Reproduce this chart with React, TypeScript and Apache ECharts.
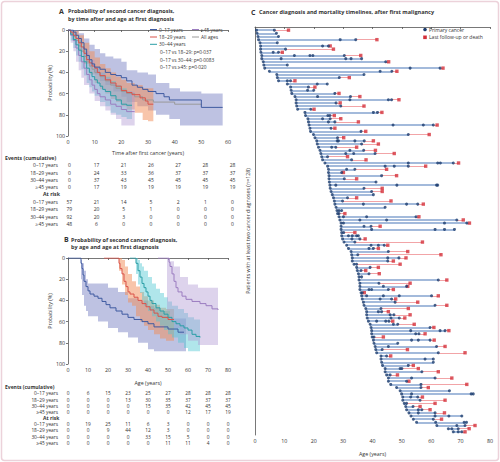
import React, { useEffect, useRef } from "react";
import * as echarts from "echarts";

const FONT = "'Open Sans', 'Noto Sans', sans-serif";
const TXT = "#333";

const groups = ["0–17 years", "18–29 years", "30–44 years", "≥45 years"];
const lineColors = ["#3f5aa0", "#d9534a", "#2a9ea6", "#9b7dc0"];
const bandColors = ["rgba(110,120,190,0.45)", "rgba(242,140,85,0.5)", "rgba(80,200,210,0.45)", "rgba(175,150,210,0.42)"];
const allAgesColor = "#9a9a9a";

// ---- Panel A: time after first cancer (years) vs probability (%)
const kmA_0_17 = [[0,0],[2,2],[3,5],[4,8],[5,12],[6,18],[7,24],[8,28],[9,32],[10,35],[12,37],[14,40],[16,42],[18,43],[20,45],[22,48],[24,52],[26,54],[28,56],[30,58],[33,60],[36,63],[38,66],[50,73],[58,73]];
const kmA_18_29 = [[0,0],[1,2],[2,5],[3,8],[4,12],[5,16],[6,22],[7,28],[8,31],[9,34],[10,36],[11,40],[12,43],[14,47],[16,50],[18,53],[20,57],[22,59],[24,61],[27,64],[29,67],[30,70],[32,70]];
const kmA_30_44 = [[0,0],[1,4],[2,9],[3,14],[4,19],[5,25],[6,30],[7,36],[8,40],[9,44],[10,47],[11,50],[12,53],[13,56],[14,58],[16,62],[18,66],[20,70],[22,71],[24,71]];
const kmA_45 = [[0,0],[1,5],[2,10],[3,17],[4,24],[5,30],[6,36],[7,42],[8,47],[9,52],[10,56],[11,60],[12,63],[14,66],[16,70],[18,72],[20,75],[22,77],[25,77]];
const kmA_all = [[0,0],[1,3],[2,6],[3,10],[4,15],[5,20],[6,25],[7,30],[8,34],[9,37],[10,40],[12,44],[14,48],[16,52],[18,55],[20,58],[22,60],[25,63],[28,66],[32,68],[40,70],[50,71]];

const bandA_0_17 = [[0,0,0],[2,0,5],[4,3,14],[6,8,25],[8,14,35],[10,18,42],[12,22,48],[14,25,52],[17,27,58],[20,30,63],[22,38,68],[26,40,72],[30,42,76],[33,50,80],[38,55,84],[42,58,90],[50,60,90],[58,60,90]];
const bandA_18_29 = [[0,0,0],[2,1,10],[4,5,20],[6,12,32],[8,20,42],[10,26,50],[12,32,56],[14,36,60],[16,40,65],[18,44,68],[20,47,72],[22,50,75],[25,52,78],[28,55,85],[30,55,86],[32,55,86]];
const bandA_30_44 = [[0,0,0],[1,0,10],[2,3,17],[3,6,24],[4,10,30],[5,14,37],[6,18,43],[7,24,50],[8,28,54],[9,32,58],[10,35,62],[12,40,68],[14,44,72],[16,48,78],[18,52,80],[20,55,82],[22,58,84],[24,58,84]];
const bandA_45 = [[0,0,0],[1,0,12],[2,3,20],[3,7,30],[4,12,38],[5,16,45],[6,20,52],[8,28,60],[10,35,67],[12,40,72],[14,45,76],[16,50,80],[18,55,84],[20,58,90],[25,60,90]];

// ---- Panel B: age (years) vs probability (%)
const kmB_0_17 = [[0,0],[6,0],[6.5,5],[7,10],[7.5,16],[8,22],[9,27],[10,31],[11,34],[13,36],[15,38],[17,41],[19,44],[21,47],[24,50],[27,53],[30,56],[33,58],[37,60],[40,62],[43,65],[50,67],[55,70],[58,70]];
const kmB_18_29 = [[18,0],[25,0],[25.5,5],[26,10],[27,15],[28,22],[29,27],[30,32],[31,34],[33,37],[35,40],[37,43],[39,46],[41,49],[43,52],[45,55],[47,56],[50,58],[53,58]];
const kmB_30_44 = [[31,0],[33.5,0],[34,5],[35,12],[36,18],[37,24],[38,28],[39,32],[40,36],[41,40],[42,43],[44,47],[46,50],[48,53],[50,56],[52,60],[54,62],[56,64],[58,66],[60,68],[62,72],[64,74],[66,75]];
const kmB_45 = [[45,0],[50,0],[50.5,4],[51,8],[52,15],[53,22],[54,28],[55,32],[57,36],[59,39],[62,41],[66,43],[69,45],[72,48],[75,49]];

const bandB_0_17 = [[6,0,0],[6.5,2,20],[7,5,35],[8,12,45],[9,20,50],[10,24,55],[15,24,60],[20,28,66],[25,32,70],[30,38,75],[35,40,80],[40,45,86],[43,47,88],[46,50,88],[51,57,88],[59,57,88]];
const bandB_18_29 = [[25,0,0],[25.5,0,12],[27,2,25],[28.5,8,35],[30,15,42],[32,22,45],[34,27,55],[36,32,60],[38,36,64],[40,40,68],[43,44,72],[46,47,76],[49,48,78],[53,48,78]];
const bandB_30_44 = [[33,0,0],[34,0,15],[35,2,25],[36,5,33],[37,8,40],[38,12,45],[40,18,50],[42,24,55],[44,29,60],[46,33,64],[48,37,68],[50,41,72],[52,45,75],[55,48,80],[58,52,85],[60,56,88],[63,58,88],[66,58,88]];
const bandB_45 = [[49.5,0,50],[51,3,60],[53,8,66],[56,18,72],[60,25,78],[65,28,82],[75,29,84]];

// ---- Tables
const tickA = [0, 10, 20, 30, 40, 50, 60];
const eventsA = [[0,17,21,26,27,28,28],[0,24,33,36,37,37,37],[0,37,43,45,45,45,45],[0,17,19,19,19,19,19]];
const atRiskA = [[57,21,14,5,2,1,0],[79,20,5,1,0,0,0],[92,20,3,0,0,0,0],[48,6,0,0,0,0,0]];
const tickB = [0, 10, 20, 30, 40, 50, 60, 70, 80];
const eventsB = [[0,6,15,23,25,27,28,28,28],[0,0,0,13,30,35,37,37,37],[0,0,0,0,15,35,42,45,45],[0,0,0,0,0,0,12,17,19]];
const atRiskB = [[0,19,25,11,6,3,0,0,0],[0,0,9,44,12,3,0,0,0],[0,0,0,0,33,15,5,0,0],[0,0,0,0,0,11,11,4,0]];
const pValues = ["0–17 vs 18–29: p=0·037", "0–17 vs 30–44: p=0·0083", "0–17 vs ≥45: p=0·020"];

// ---- Panel C: ages at each cancer diagnosis, and age at last follow-up or death
const patientCancers: number[][] = [
  [0.5,6.6],[0.7,7.3],[1,8],[1.2,29,34.3],[1.7,7.6],[1.9,23,25],[1.9,10.4],[2,6.2,8],[2.3,13.4,18.7,19.7,30.4],[2.3,8.9,30.9,32.7,36.3],
  [2.8,44.5],[3,11],[3.3,52.8,63],[4.9,42.6,46.6],[7.4,37.1],[7.6,28.7],[8,11,12.1],[11,21.2,24.6],[12.1,18.2],[12.3,17.9,20],
  [12.5,27.2],[13.6,21.3,32.5],[14,32.3,45.4,46.5],[14,27.6],[14.2,29.2],[14.5,19],[17,40.3,41.7],[17.2,24.8,25.5],[18,23,25.6],[18.2,25,27.2],
  [18.4,47,57.3,60.7],[18.7,25.9],[18.9,36.1],[19.9,52.2],[20.4,28.1],[21,28,28.4,34,37.2],[21.2,36.3],[21.6,26.1,27.5],[22.1,32.3,37],[22.4,30.9,33.6,40.9],
  [22.7,24.7],[23,32.9],[23.8,52.2,62.2,63.1,67.5],[24.7,44.3,47.4,52.2],[25,31.2,34],[25,29.5],[25.2,43.1],[25.2,30.4],[25.3,41.2],[25.5,27.5,48.3,61.8,62.2],
  [25.6,37.1],[25.9,39.7],[26.3,40.3],[26.7,31.5],[27,29.8],[27.2,36.9,51.6,55.4],[27.6,44.3],[27.9,28.6,29.5],[28.1,28.6],[28.6,30.1,38,54.8],
  [28.9,35.7,44.8,68.7],[29.3,30.1,64.5,72.1],[29.3,37.1,39.5],[29.3,39.7,61.3,64.5,67.9],[29.5,30.2],[29.5,31.8,33.1,34.6,35.2],[29.8,33,35.7],[30.3,34],[31.2,39.5,42,44],[31.8,38.8,40.3],
  [32.7,45.4],[32.9,35],[33.1,45.2,49],[33.1,45.2],[33.7,34.6],[34.6,39.2],[34.8,36.1],[35.2,38.8],[35.4,36.3],[35.4,62.4],
  [35.7,42.2],[35.7,43.7,51.6],[35.7,38.8,39.7,45.4],[36.1,36.5],[36.3,38,43.7,49.1,60.1],[36.5,42.6,46.5],[36.9,47.7],[37.1,61.3],[37.7,42.9],[38,42,43.1],
  [38,46,47.3],[38.2,46.3,49.1],[38.6,41.4,44.5,45.6],[39.2,47.1,48.6],[39.5,59.6],[39.7,53,63,64.7],[39.7,54.7,55.8],[39.9,40.5],[40.3,53.3,55.6,59.6],[40.5,48.6],
  [40.9,45.4,61.8],[41.1,43.3],[41.4,62.4],[42.9,44.8],[42.9,57.9,60.7],[43.1,60.7],[43.4,52.2],[44.3,49.4,50],[44.3,56.8],[44.8,46],
  [45.4,53.3,61.3],[45.4,51.6],[46.2,56.5],[48.2,56.5],[49.4,66.2],[49.9,53.3,73.6,74.3],[50.3,53,55.4],[50.3,56.2],[50.8,51.6],[51.3,53.8],
  [51.6,55.6,56.8],[52.4,55.6,61.3],[53.1,61.3,66,70.4],[53.9,60.7],[55,61.5,71.2,72],[61.9,68.7,71.5],[65.8,67,69.2],[67.5,69.2,70.4]
];
const patientFollowUp: (number | null)[] = [
  11.4,null,null,41.5,null,25.6,26.7,9.3,36,null,
  45.5,null,64,48.3,null,32.1,13.6,null,20.4,null,
  28.6,35.7,49,29,37.1,20.1,43.2,27,29.2,35.2,
  62,27.2,37.7,59.3,30.2,40.3,42,34.6,41,47.4,
  31.5,37.8,69.3,58.1,44.8,30.1,48.2,34.6,null,null,
  43.3,43.3,null,34.6,46.3,57.3,null,null,30.6,55.8,
  70.9,73,42.6,null,34,null,37.5,57,45.2,42,
  52,63.3,51.4,47.1,49.4,42,37.7,42.3,null,65.3,
  52.8,52,47.1,37.2,62.4,47.9,55.4,65.3,52.2,45.4,
  52.8,51,46.9,54.2,60.9,66,57.9,43.7,61,null,
  64.7,51.9,71.5,46.2,null,null,53.9,55.6,62.4,48.5,
  67,52.4,72.1,59,null,null,57,64.7,61.3,56.2,
  59.6,64.5,null,63.5,null,74.9,72.9,71.5
];

const GA = { left: 68, top: 30, width: 160, height: 106 };
const GB = { left: 68, top: 258, width: 160, height: 106 };
const GC = { left: 255, top: 27, width: 235, height: 408 };

function bandSeries(band: number[][], color: string, axisIdx: number) {
  return {
    type: "custom",
    xAxisIndex: axisIdx,
    yAxisIndex: axisIdx,
    silent: true,
    data: [[band[0][0], 0]],
    renderItem: (_p: any, api: any) => {
      const up: number[][] = [];
      const low: number[][] = [];
      for (let i = 0; i < band.length; i++) {
        const [x, u, l] = band[i];
        if (i > 0) {
          up.push(api.coord([x, band[i - 1][1]]));
          low.push(api.coord([x, band[i - 1][2]]));
        }
        up.push(api.coord([x, u]));
        low.push(api.coord([x, l]));
      }
      return { type: "polygon", shape: { points: up.concat(low.reverse()) }, style: { fill: color } };
    },
  };
}

function stepSeries(data: number[][], color: string, axisIdx: number, width = 1) {
  return {
    type: "line",
    xAxisIndex: axisIdx,
    yAxisIndex: axisIdx,
    step: "end",
    showSymbol: false,
    silent: true,
    data,
    lineStyle: { color, width },
    z: 3,
  };
}

function axisCommon() {
  return {
    axisLine: { show: true, lineStyle: { color: "#555", width: 0.8 } },
    axisTick: { show: true, length: 2, lineStyle: { color: "#555", width: 0.8 } },
    axisLabel: { fontSize: 5.3, color: TXT, margin: 3, fontFamily: FONT },
    splitLine: { show: false },
    nameTextStyle: { fontSize: 5.3, color: TXT, fontFamily: FONT },
  };
}

function txt(x: number, y: number, text: string, opts: any = {}) {
  const size = opts.size ?? 5;
  return {
    type: "text",
    x,
    y,
    silent: true,
    style: {
      text,
      fontSize: size,
      lineHeight: size,
      fontFamily: FONT,
      fontWeight: opts.bold ? "bold" : "normal",
      fill: opts.color ?? TXT,
      align: opts.align ?? "left",
      verticalAlign: "middle",
    },
  };
}

function tableGraphics(colX: number[], events: number[][], atRisk: number[][], yHead: number, yRows: number[], yRisk: number, yRiskRows: number[], size: number) {
  const g: any[] = [];
  g.push(txt(5, yHead, "Events (cumulative)", { bold: true, size: size + 0.2 }));
  groups.forEach((lab, r) => {
    g.push(txt(58, yRows[r], lab, { align: "right", size }));
    events[r].forEach((v, c) => g.push(txt(colX[c], yRows[r], String(v), { align: "center", size })));
  });
  g.push(txt(43, yRisk, "At risk", { bold: true, size: size + 0.2 }));
  groups.forEach((lab, r) => {
    g.push(txt(58, yRiskRows[r], lab, { align: "right", size }));
    atRisk[r].forEach((v, c) => g.push(txt(colX[c], yRiskRows[r], String(v), { align: "center", size })));
  });
  return g;
}

export default function App() {
  const ref = useRef<HTMLDivElement>(null);
  useEffect(() => {
    if (!ref.current) return;
    const chart = echarts.init(ref.current, undefined, { renderer: "svg" });

    const colA = tickA.map((_, i) => 69.3 + i * 27.2);
    const colB = tickB.map((_, i) => 68 + i * 20);

    const blueSeg: any[] = [];
    const redSeg: any[] = [];
    const blueDots: number[][] = [];
    const redDots: number[][] = [];
    patientCancers.forEach((ages, i) => {
      const row = i + 1;
      const first = ages[0];
      const last = ages[ages.length - 1];
      blueSeg.push({ coords: [[first, row], [last, row]] });
      const fu = patientFollowUp[i];
      if (fu != null) {
        redSeg.push({ coords: [[last, row], [fu, row]] });
        redDots.push([fu, row]);
      }
      ages.forEach((a) => blueDots.push([a, row]));
    });

    const graphics: any[] = [
      { type: "rect", shape: { x: 1.5, y: 1.5, width: 497, height: 459, r: 3 }, style: { fill: "none", stroke: "#ecd2da", lineWidth: 1.5 }, silent: true },
      // titles
      txt(59, 11, "A", { bold: true, size: 7 }),
      txt(68, 11, "Probability of second cancer diagnosis,", { bold: true, size: 5.5 }),
      txt(68, 18.5, "by time after and age at first diagnosis", { bold: true, size: 5.5 }),
      txt(64, 239.5, "B", { bold: true, size: 7 }),
      txt(71, 239.5, "Probability of second cancer diagnosis,", { bold: true, size: 5.5 }),
      txt(71, 247, "by age and age at first diagnosis", { bold: true, size: 5.5 }),
      txt(251, 12, "C", { bold: true, size: 7 }),
      txt(259, 12, "Cancer diagnosis and mortality timelines, after first malignancy", { bold: true, size: 5.5 }),
      // panel C legend
      { type: "circle", shape: { cx: 425, cy: 29.5, r: 1.8 }, style: { fill: "#1c3c6e" }, silent: true },
      txt(429, 29.5, "Primary cancer", { size: 5 }),
      { type: "rect", shape: { x: 423.2, y: 35.5, width: 3.6, height: 3.6 }, style: { fill: "#d4303a" }, silent: true },
      txt(429, 37.3, "Last follow-up or death", { size: 5 }),
    ];

    // panel A legend
    const legA = [
      { x: 150, y: 29.5, c: lineColors[0], t: groups[0] },
      { x: 150, y: 37, c: lineColors[1], t: groups[1] },
      { x: 150, y: 44.3, c: lineColors[2], t: groups[2] },
      { x: 192, y: 29.5, c: lineColors[3], t: groups[3] },
      { x: 192, y: 37, c: allAgesColor, t: "All ages" },
    ];
    legA.forEach((l) => {
      graphics.push({ type: "line", shape: { x1: l.x, y1: l.y, x2: l.x + 7, y2: l.y }, style: { stroke: l.c, lineWidth: 1 }, silent: true });
      graphics.push(txt(l.x + 9, l.y, l.t, { size: 4.8 }));
    });
    pValues.forEach((p, i) => graphics.push(txt(160, 52.3 + i * 7.3, p, { size: 4.8 })));

    graphics.push(...tableGraphics(colA, eventsA, atRiskA, 157.5, [165, 172.5, 179.6, 186.8], 193.7, [201.5, 209, 216.5, 224], 5));
    graphics.push(...tableGraphics(colB, eventsB, atRiskB, 387, [393.3, 399.5, 405.8, 411.8], 417.8, [424, 430.3, 436.7, 443.2], 4.8));

    const option: any = {
      animation: false,
      textStyle: { fontFamily: FONT },
      grid: [
        { ...GA, containLabel: false },
        { ...GB, containLabel: false },
        { ...GC, containLabel: false },
      ],
      xAxis: [
        { gridIndex: 0, type: "value", min: 0, max: 60, interval: 10, name: "Time after first cancer (years)", nameLocation: "middle", nameGap: 14, ...axisCommon() },
        { gridIndex: 1, type: "value", min: 0, max: 80, interval: 10, name: "Age (years)", nameLocation: "middle", nameGap: 16, ...axisCommon() },
        { gridIndex: 2, type: "value", min: 0, max: 80, interval: 10, name: "Age (years)", nameLocation: "middle", nameGap: 16, ...axisCommon() },
      ],
      yAxis: [
        { gridIndex: 0, type: "value", min: 0, max: 100, interval: 20, inverse: true, name: "Probability (%)", nameLocation: "middle", nameGap: 15, nameRotate: 90, ...axisCommon() },
        { gridIndex: 1, type: "value", min: 0, max: 100, interval: 20, inverse: true, name: "Probability (%)", nameLocation: "middle", nameGap: 15, nameRotate: 90, ...axisCommon() },
        {
          gridIndex: 2, type: "value", min: 0, max: 129, inverse: true,
          name: "Patients with at least two cancer diagnoses (n=128)", nameLocation: "middle", nameGap: 5, nameRotate: 90,
          ...axisCommon(),
          axisTick: { show: false },
          axisLabel: { show: false },
        },
      ],
      graphic: { elements: graphics },
      series: [
        bandSeries(bandA_0_17, bandColors[0], 0),
        bandSeries(bandA_18_29, bandColors[1], 0),
        bandSeries(bandA_30_44, bandColors[2], 0),
        bandSeries(bandA_45, bandColors[3], 0),
        stepSeries(kmA_all, allAgesColor, 0),
        stepSeries(kmA_45, lineColors[3], 0),
        stepSeries(kmA_30_44, lineColors[2], 0),
        stepSeries(kmA_18_29, lineColors[1], 0),
        stepSeries(kmA_0_17, lineColors[0], 0),
        bandSeries(bandB_0_17, bandColors[0], 1),
        bandSeries(bandB_18_29, bandColors[1], 1),
        bandSeries(bandB_30_44, bandColors[2], 1),
        bandSeries(bandB_45, bandColors[3], 1),
        stepSeries(kmB_45, lineColors[3], 1),
        stepSeries(kmB_30_44, lineColors[2], 1),
        stepSeries(kmB_18_29, lineColors[1], 1),
        stepSeries(kmB_0_17, lineColors[0], 1),
        {
          type: "lines", coordinateSystem: "cartesian2d", xAxisIndex: 2, yAxisIndex: 2, silent: true,
          data: blueSeg, lineStyle: { color: "#84a3cf", width: 1.5, opacity: 1 }, z: 2,
        },
        {
          type: "lines", coordinateSystem: "cartesian2d", xAxisIndex: 2, yAxisIndex: 2, silent: true,
          data: redSeg, lineStyle: { color: "#f09a9d", width: 0.9, opacity: 1 }, z: 2,
        },
        {
          type: "scatter", xAxisIndex: 2, yAxisIndex: 2, silent: true, data: redDots,
          symbol: "rect", symbolSize: 3.4, itemStyle: { color: "#d4303a" }, z: 3,
        },
        {
          type: "scatter", xAxisIndex: 2, yAxisIndex: 2, silent: true, data: blueDots,
          symbol: "circle", symbolSize: 3, itemStyle: { color: "#1c3c6e" }, z: 4,
        },
      ],
    };
    chart.setOption(option);
    return () => chart.dispose();
  }, []);

  return (
    <div
      ref={ref}
      style={{ position: "fixed", left: 0, top: 0, width: 500, height: 462, background: "#fff" }}
    />
  );
}
